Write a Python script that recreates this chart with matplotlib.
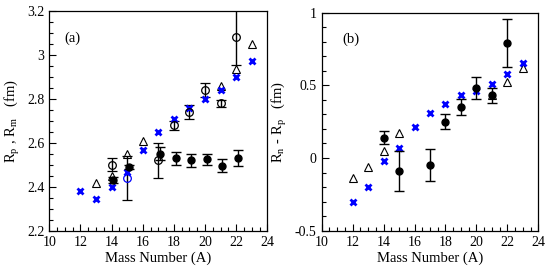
import matplotlib.pyplot as plt
from matplotlib.ticker import MultipleLocator

plt.rcParams['font.family'] = ['Liberation Serif', 'DejaVu Serif']
plt.rcParams['mathtext.fontset'] = 'stix'

# panel (a): radii
cross_a_A = [12, 13, 14, 15, 16, 17, 18, 19, 20, 21, 22, 23]
cross_a = [2.38, 2.345, 2.40, 2.465, 2.565, 2.65, 2.71, 2.76, 2.80, 2.84, 2.90, 2.97]
tri_a_A = [13, 14, 15, 16, 21, 22, 23]
tri_a = [2.415, 2.45, 2.55, 2.61, 2.86, 2.935, 3.05]
fill_a_A = [14, 15, 17, 18, 19, 20, 21, 22]
fill_a = [2.43, 2.49, 2.55, 2.53, 2.52, 2.525, 2.495, 2.53]
fill_a_err = [0.015, 0.01, 0.03, 0.03, 0.03, 0.025, 0.03, 0.035]
open_a_A = [14, 17, 18, 19, 20, 21, 22]
open_a = [2.50, 2.52, 2.68, 2.74, 2.84, 2.78, 3.08]
open_a_err = [0.03, 0.08, 0.02, 0.03, 0.03, 0.015, 0.125]
blue_open_A = [15]
blue_open = [2.44]
blue_open_err = [0.10]

# panel (b): Rn - Rp
cross_b_A = [12, 13, 14, 15, 16, 17, 18, 19, 20, 21, 22, 23]
cross_b = [-0.30, -0.20, -0.02, 0.07, 0.21, 0.31, 0.37, 0.43, 0.46, 0.51, 0.58, 0.65]
tri_b_A = [12, 13, 14, 15, 21, 22, 23]
tri_b = [-0.14, -0.065, 0.05, 0.17, 0.43, 0.52, 0.62]
fill_b_A = [14, 15, 17, 18, 19, 20, 21, 22]
fill_b = [0.14, -0.09, -0.05, 0.25, 0.35, 0.48, 0.43, 0.79]
fill_b_err = [0.045, 0.14, 0.11, 0.05, 0.055, 0.075, 0.05, 0.165]

fig = plt.figure(figsize=(5.45, 2.73), dpi=100)
ax1 = fig.add_axes([0.0905, 0.155, 0.400, 0.805])
ax2 = fig.add_axes([0.590, 0.155, 0.398, 0.799])

ms_tri = 6
ms_circ = 5.5
ms_fill = 5


def style(ax, ymin, ymax, ymaj, ymin_step):
    ax.set_xlim(10, 24)
    ax.set_ylim(ymin, ymax)
    ax.xaxis.set_major_locator(MultipleLocator(2))
    ax.xaxis.set_minor_locator(MultipleLocator(0.5))
    ax.yaxis.set_major_locator(MultipleLocator(ymaj))
    ax.yaxis.set_minor_locator(MultipleLocator(ymin_step))
    ax.tick_params(which='both', direction='in', top=False, right=False, labelsize=10)
    ax.tick_params(which='major', length=5, width=0.8)
    ax.tick_params(which='minor', length=3, width=0.8)
    for s in ax.spines.values():
        s.set_linewidth(0.9)
    ax.set_xlabel('Mass Number (A)', fontsize=10.5, labelpad=2)


# (a)
ax = ax1
ax.errorbar(open_a_A, open_a, yerr=open_a_err, fmt='o', mfc='none', mec='black',
            ms=ms_circ, ecolor='black', elinewidth=1, capsize=3.5, mew=0.9)
ax.errorbar(blue_open_A, blue_open, yerr=blue_open_err, fmt='o', mfc='none', mec='blue',
            ms=ms_circ, ecolor='black', elinewidth=1, capsize=3.5, mew=0.9)
ax.plot(tri_a_A, tri_a, '^', mfc='none', mec='black', ms=ms_tri, mew=0.8)
ax.plot(cross_a_A, cross_a, 'x', color='blue', ms=4, mew=2)
ax.errorbar([a + 0.12 for a in fill_a_A], fill_a, yerr=fill_a_err, fmt='o', color='black',
            ms=ms_fill, elinewidth=1, capsize=3.5)
style(ax, 2.2, 3.2, 0.2, 0.05)
ax.set_yticks([2.2, 2.4, 2.6, 2.8, 3.0, 3.2])
ax.set_yticklabels(['2.2', '2.4', '2.6', '2.8', '3', '3.2'])
ax.set_ylabel('R$_\\mathregular{p}$ , R$_\\mathregular{m}$   (fm)', fontsize=10.5, labelpad=4)
ax.text(0.07, 0.86, '(a)', transform=ax.transAxes, fontsize=10.5)

# (b)
ax = ax2
ax.plot(tri_b_A, tri_b, '^', mfc='none', mec='black', ms=ms_tri, mew=0.8)
ax.plot(cross_b_A, cross_b, 'x', color='blue', ms=4, mew=2)
ax.errorbar(fill_b_A, fill_b, yerr=fill_b_err, fmt='o', color='black',
            ms=ms_fill, elinewidth=1, capsize=3.5)
style(ax, -0.5, 1.0, 0.5, 0.1)
ax.set_yticks([-0.5, 0, 0.5, 1.0])
ax.set_yticklabels(['-0.5', '0', '0.5', '1'])
ax.set_ylabel('R$_\\mathregular{n}$ - R$_\\mathregular{p}$   (fm)', fontsize=10.5, labelpad=4)
ax.text(0.095, 0.86, '(b)', transform=ax.transAxes, fontsize=10.5)

fig.savefig('out.png', dpi=100)
